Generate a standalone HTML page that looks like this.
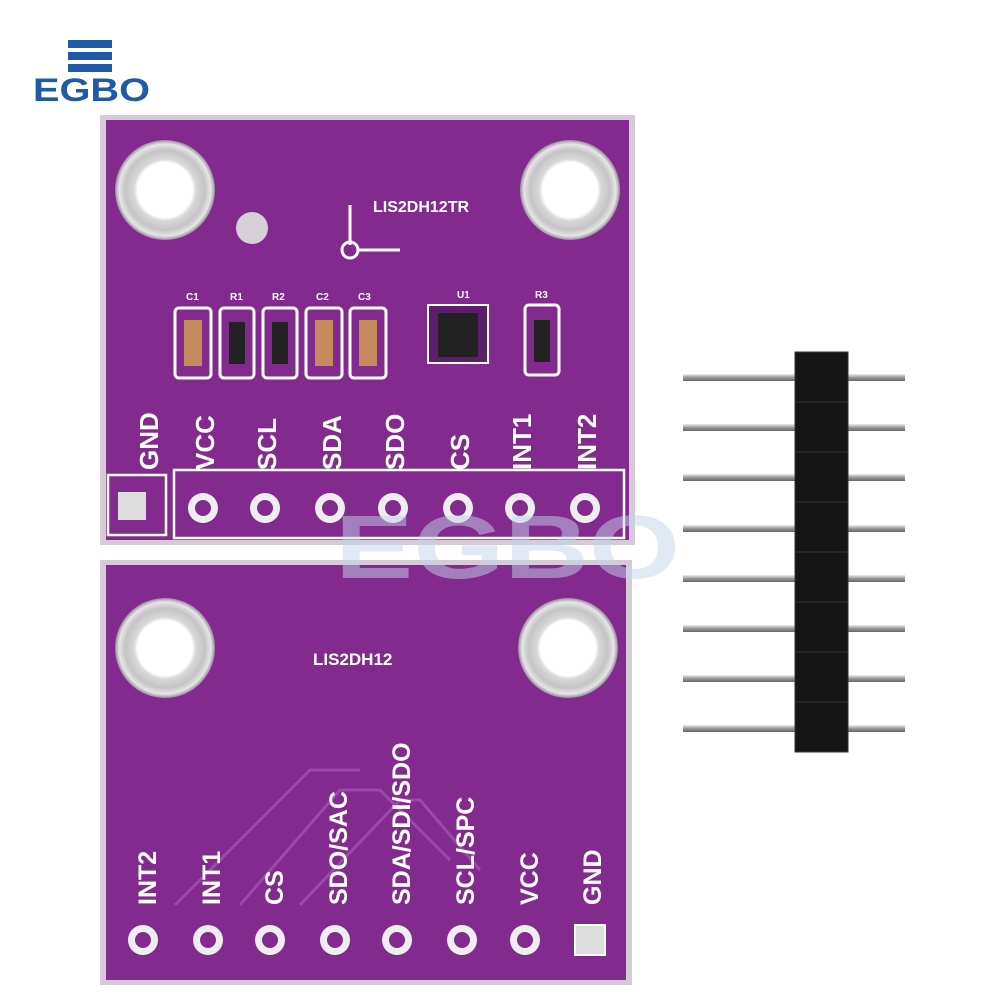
<!DOCTYPE html>
<html><head><meta charset="utf-8"><style>
html,body{margin:0;padding:0;background:#fff;width:1000px;height:1000px;overflow:hidden}
</style></head><body>
<svg width="1000" height="1000" viewBox="0 0 1000 1000" xmlns="http://www.w3.org/2000/svg" font-family="Liberation Sans, sans-serif">
<defs>
<radialGradient id="hole" cx="50%" cy="50%" r="50%">
<stop offset="0.55" stop-color="#ffffff"/><stop offset="0.62" stop-color="#d8d8d8"/><stop offset="0.8" stop-color="#c4c4c4"/><stop offset="0.92" stop-color="#e6e6e6"/><stop offset="1" stop-color="#9a8aa0"/>
</radialGradient>
<linearGradient id="pin" x1="0" y1="0" x2="0" y2="1"><stop offset="0" stop-color="#eee"/><stop offset="0.5" stop-color="#999"/><stop offset="1" stop-color="#666"/></linearGradient>
</defs>
<!-- logo -->
<g fill="#1e5aa8">
<rect x="68" y="40" width="44" height="8"/><rect x="68" y="52" width="44" height="8"/><rect x="68" y="64" width="44" height="8"/>
<text x="33" y="101" font-size="32" font-weight="bold" textLength="117" lengthAdjust="spacingAndGlyphs">EGBO</text>
</g>
<!-- top board -->
<rect x="100" y="115" width="535" height="430" fill="#d6cad8"/>
<rect x="106" y="120" width="523" height="420" fill="#822a8e"/>
<circle cx="165" cy="190" r="50" fill="url(#hole)"/>
<circle cx="570" cy="190" r="50" fill="url(#hole)"/>
<circle cx="252" cy="228" r="16" fill="#d8d0d8"/>
<text x="373" y="212" font-size="16" font-weight="bold" fill="#fff">LIS2DH12TR</text>
<g stroke="#fff" stroke-width="3" fill="none"><line x1="350" y1="245" x2="350" y2="205"/><circle cx="350" cy="250" r="8"/><line x1="358" y1="250" x2="400" y2="250"/></g>
<!-- components -->
<g stroke="#fff" stroke-width="3" fill="none">
<rect x="175" y="308" width="36" height="70" rx="4"/><rect x="220" y="308" width="34" height="70" rx="4"/><rect x="263" y="308" width="34" height="70" rx="4"/><rect x="306" y="308" width="36" height="70" rx="4"/><rect x="350" y="308" width="36" height="70" rx="4"/><rect x="525" y="305" width="34" height="70" rx="4"/>
</g>
<g fill="#c48a5c"><rect x="184" y="320" width="18" height="46"/><rect x="315" y="320" width="18" height="46"/><rect x="359" y="320" width="18" height="46"/></g>
<g fill="#222"><rect x="229" y="322" width="16" height="42"/><rect x="272" y="322" width="16" height="42"/><rect x="534" y="320" width="16" height="42"/></g>
<rect x="428" y="305" width="60" height="58" fill="#5c1f6c" stroke="#fff" stroke-width="2"/>
<rect x="438" y="313" width="40" height="44" fill="#222"/>
<g font-size="10" fill="#fff" font-weight="bold"><text x="186" y="300">C1</text><text x="230" y="300">R1</text><text x="272" y="300">R2</text><text x="316" y="300">C2</text><text x="358" y="300">C3</text><text x="457" y="298">U1</text><text x="535" y="298">R3</text></g>
<!-- pin area -->
<g stroke="#fff" stroke-width="2.5" fill="none"><rect x="108" y="475" width="58" height="60"/><rect x="174" y="470" width="450" height="68"/></g>
<rect x="118" y="492" width="28" height="28" fill="#ddd"/>
<g fill="#eee"><circle cx="203" cy="508" r="15"/><circle cx="265" cy="508" r="15"/><circle cx="330" cy="508" r="15"/><circle cx="393" cy="508" r="15"/><circle cx="458" cy="508" r="15"/><circle cx="520" cy="508" r="15"/><circle cx="585" cy="508" r="15"/></g>
<g fill="#822a8e"><circle cx="203" cy="508" r="8"/><circle cx="265" cy="508" r="8"/><circle cx="330" cy="508" r="8"/><circle cx="393" cy="508" r="8"/><circle cx="458" cy="508" r="8"/><circle cx="520" cy="508" r="8"/><circle cx="585" cy="508" r="8"/></g>
<g fill="#fff" font-size="26" font-weight="bold">
<text transform="translate(158,470) rotate(-90)">GND</text>
<text transform="translate(214,470) rotate(-90)">VCC</text>
<text transform="translate(276,470) rotate(-90)">SCL</text>
<text transform="translate(341,470) rotate(-90)">SDA</text>
<text transform="translate(404,470) rotate(-90)">SDO</text>
<text transform="translate(469,470) rotate(-90)">CS</text>
<text transform="translate(531,470) rotate(-90)">INT1</text>
<text transform="translate(596,470) rotate(-90)">INT2</text>
</g>
<!-- bottom board -->
<rect x="100" y="560" width="532" height="425" fill="#d6cad8"/>
<rect x="106" y="565" width="520" height="415" fill="#822a8e"/>
<circle cx="165" cy="648" r="50" fill="url(#hole)"/>
<circle cx="568" cy="648" r="50" fill="url(#hole)"/>
<text x="313" y="665" font-size="17" font-weight="bold" fill="#fff">LIS2DH12</text>
<g stroke="#9a4aab" stroke-width="3" fill="none"><path d="M175 905 L310 770 L360 770"/><path d="M240 905 L340 790 L380 790 L450 860"/><path d="M300 905 L400 800 L420 800 L480 870"/></g>
<g fill="#eee"><circle cx="143" cy="940" r="15"/><circle cx="208" cy="940" r="15"/><circle cx="270" cy="940" r="15"/><circle cx="335" cy="940" r="15"/><circle cx="397" cy="940" r="15"/><circle cx="462" cy="940" r="15"/><circle cx="525" cy="940" r="15"/></g>
<g fill="#822a8e"><circle cx="143" cy="940" r="8"/><circle cx="208" cy="940" r="8"/><circle cx="270" cy="940" r="8"/><circle cx="335" cy="940" r="8"/><circle cx="397" cy="940" r="8"/><circle cx="462" cy="940" r="8"/><circle cx="525" cy="940" r="8"/></g>
<rect x="575" y="925" width="30" height="30" fill="#ddd" stroke="#fff" stroke-width="2"/>
<g fill="#fff" font-size="25" font-weight="bold">
<text transform="translate(156,905) rotate(-90)">INT2</text>
<text transform="translate(220,905) rotate(-90)">INT1</text>
<text transform="translate(283,905) rotate(-90)">CS</text>
<text transform="translate(347,905) rotate(-90)">SDO/SAC</text>
<text transform="translate(410,905) rotate(-90)">SDA/SDI/SDO</text>
<text transform="translate(474,905) rotate(-90)">SCL/SPC</text>
<text transform="translate(538,905) rotate(-90)">VCC</text>
<text transform="translate(601,905) rotate(-90)">GND</text>
</g>
<!-- watermark -->
<text x="335" y="578" font-size="90" font-weight="bold" fill="#c4d4ea" opacity="0.5" textLength="345" lengthAdjust="spacingAndGlyphs">EGBO</text>
<!-- pin header -->
<g fill="url(#pin)">
<rect x="683" y="374" width="222" height="7"/><rect x="683" y="424" width="222" height="7"/><rect x="683" y="474" width="222" height="7"/><rect x="683" y="525" width="222" height="7"/><rect x="683" y="575" width="222" height="7"/><rect x="683" y="625" width="222" height="7"/><rect x="683" y="675" width="222" height="7"/><rect x="683" y="725" width="222" height="7"/>
</g>
<g fill="#151515" stroke="#333" stroke-width="1">
<rect x="795" y="352" width="53" height="50"/><rect x="795" y="402" width="53" height="50"/><rect x="795" y="452" width="53" height="50"/><rect x="795" y="502" width="53" height="50"/><rect x="795" y="552" width="53" height="50"/><rect x="795" y="602" width="53" height="50"/><rect x="795" y="652" width="53" height="50"/><rect x="795" y="702" width="53" height="50"/>
</g>
</svg>
</body></html>
